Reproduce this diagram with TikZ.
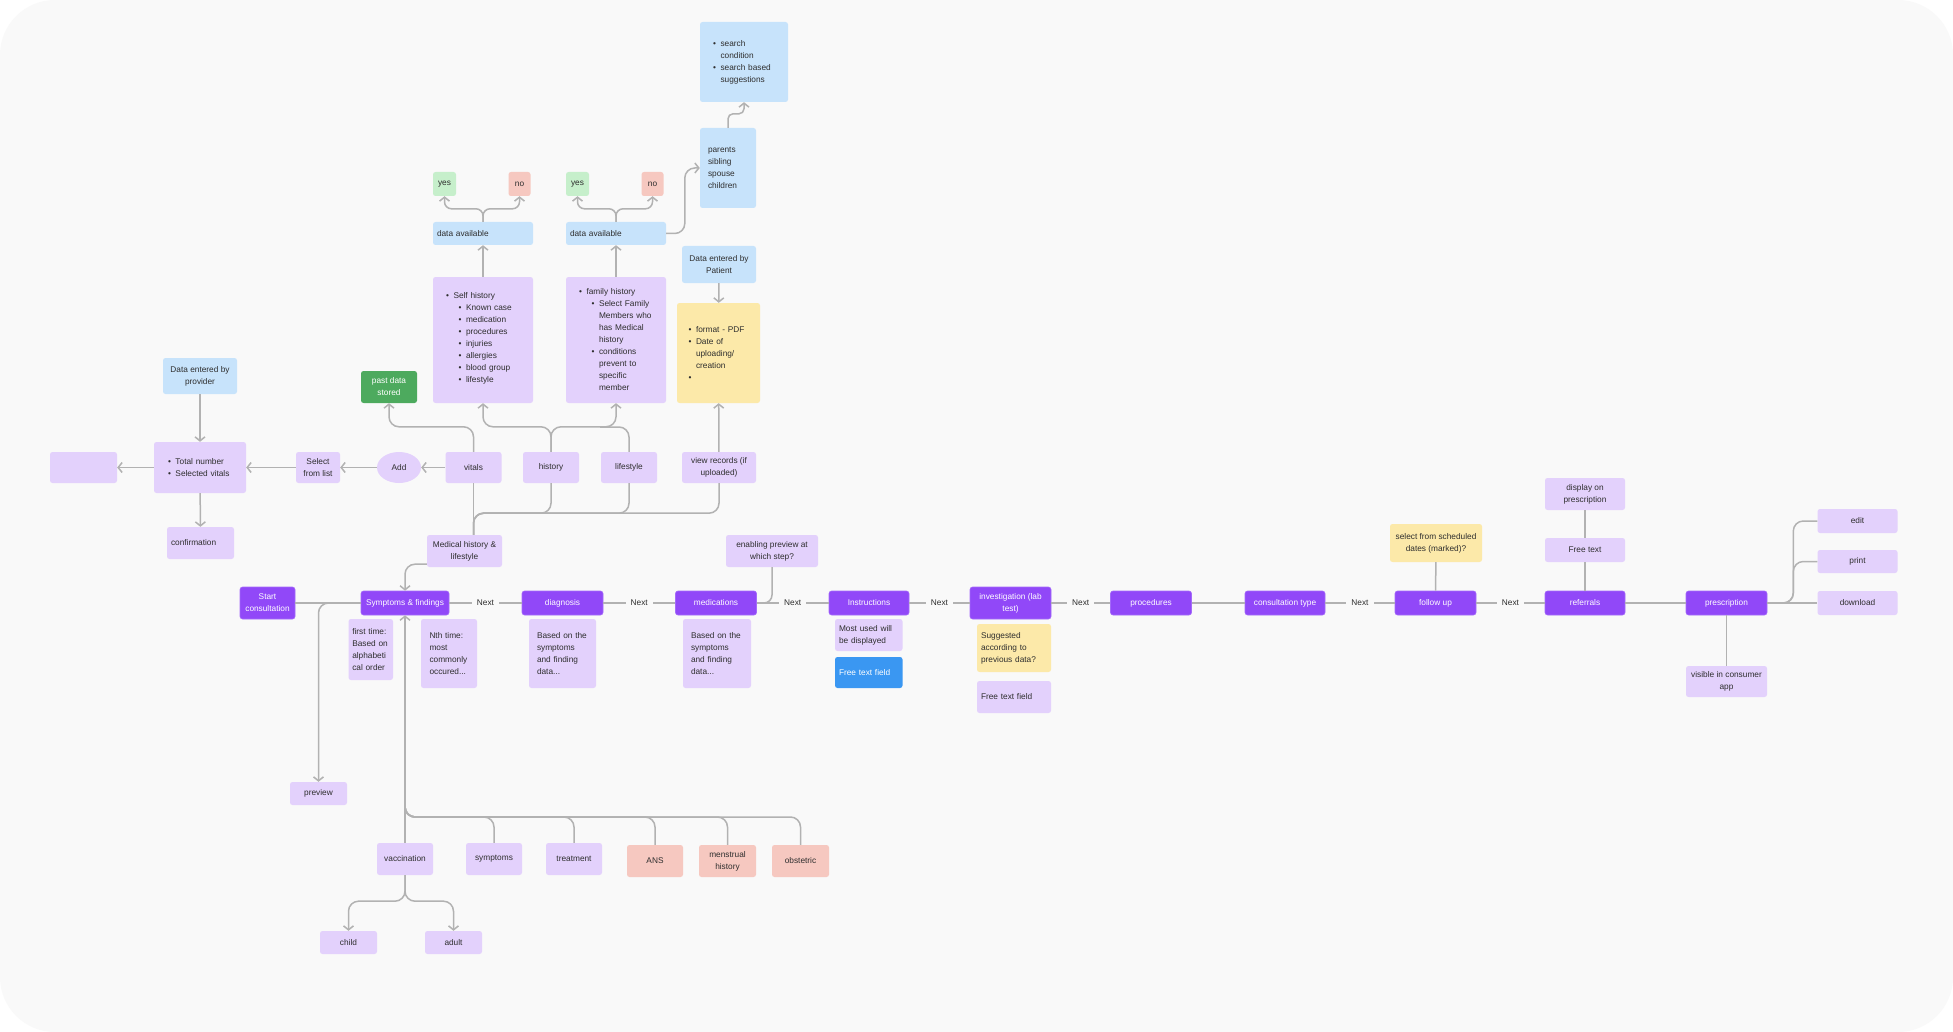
\documentclass[tikz,border=0pt]{standalone}
\usepackage{fontspec}
\setmainfont{Liberation Sans}
\usetikzlibrary{arrows.meta,shapes.geometric,calc}
\definecolor{bgc}{HTML}{F9F9F9}
\definecolor{lav}{HTML}{E3D1FC}
\definecolor{pur}{HTML}{9148F8}
\definecolor{purb}{HTML}{A46BF9}
\definecolor{lblu}{HTML}{C7E3FB}
\definecolor{lgrn}{HTML}{C6EFCB}
\definecolor{lred}{HTML}{F6C8C0}
\definecolor{lyel}{HTML}{FCE9A9}
\definecolor{dgrn}{HTML}{4DAA5E}
\definecolor{bblu}{HTML}{3A97F2}
\definecolor{txt}{HTML}{2E2E2E}
\definecolor{cgray}{HTML}{B2B2B2}
\newcommand{\myfs}{\fontsize{8.3}{12}\selectfont}
\newcommand{\mybl}{\makebox[7.5pt][l]{\textbullet}}
\newcommand{\myia}{\hspace*{12.5pt}}
\newcommand{\myib}{\hspace*{7.5pt}}
\newcommand{\myic}{\hspace*{20pt}}
\begin{document}
\begin{tikzpicture}[x=1pt,y=-1pt,
  wh/.style 2 args={minimum width=#1pt, minimum height=#2pt},
  bx/.style={rounded corners=2.5pt, inner sep=0pt, font=\myfs, align=center, text=txt},
  lavb/.style={bx, fill=lav},
  purb/.style={bx, fill=pur, draw=purb, line width=0.6pt, text=white},
  blub/.style={bx, fill=lblu},
  yelb/.style={bx, fill=lyel},
  grnb/.style={bx, fill=lgrn},
  redb/.style={bx, fill=lred},
  dgrnb/.style={bx, fill=dgrn, text=white},
  bblub/.style={bx, fill=bblu, text=white},
  lt/.style={align=left, text width=#1pt},
  cn/.style={draw=cgray, line width=1.5pt},
  arr/.style={cn, -{Straight Barb[length=4pt,width=10pt]}},
  rc/.style={rounded corners=#1pt},
  nx/.style={fill=bgc, font=\myfs, text=txt, inner xsep=5pt, inner ysep=1pt}
]
\useasboundingbox (0,0) rectangle (1953,1032);
\fill[white] (0,0) rectangle (1953,1032);
\fill[bgc, rounded corners=55pt] (0,0) rectangle (1953,1032);

% ---- left cluster
\node[blub, wh={74}{36}] (prov) at (200,376) {Data entered by\\provider};
\node[lavb, wh={92}{51}, lt=64] (tot) at (200,467.5) {\mybl Total number\\\mybl Selected vitals};
\node[lavb, wh={67}{31}] (empty) at (83.5,467.5) {};
\node[lavb, wh={67}{32}, lt=59] (conf) at (200.5,543) {confirmation};
\node[lavb, wh={44}{31}] (sel) at (318,467.5) {Select\\from list};
\node[lavb, ellipse, wh={44}{31}] (add) at (399,467.5) {Add};
\node[lavb, wh={56}{31}] (vitals) at (473.5,467.5) {vitals};
\node[lavb, wh={56}{31}] (history) at (551,467.5) {history};
\node[lavb, wh={56}{31}] (life) at (629,467.5) {lifestyle};
\node[lavb, wh={74}{31}] (view) at (719,467.5) {view records (if\\uploaded)};
\node[dgrnb, wh={56}{32}] (past) at (389,387) {past data\\stored};

% ---- history boxes
\node[lavb, wh={100}{126}, lt=74] (self) at (483,340) {\mybl Self history\\
\myia\mybl Known case\\ \myia\mybl medication\\ \myia\mybl procedures\\ \myia\mybl injuries\\
\myia\mybl allergies\\ \myia\mybl blood group\\ \myia\mybl lifestyle\\[-7pt]\mbox{}};
\node[lavb, wh={100}{126}, lt=74] (fam) at (616,340) {\mybl family history\\
\myia\mybl Select Family\\ \myic Members who\\ \myic has Medical\\ \myic history\\
\myia\mybl conditions\\ \myic prevent to\\ \myic specific\\ \myic member};
\node[blub, wh={100}{23}, lt=92] (da1) at (483,233.5) {data available};
\node[blub, wh={100}{23}, lt=92] (da2) at (616,233.5) {data available};
\node[grnb, wh={23}{24}] (yes1) at (444.5,184) {yes};
\node[redb, wh={22}{24}] (no1) at (519.5,184) {no};
\node[grnb, wh={23}{24}] (yes2) at (577.5,184) {yes};
\node[redb, wh={22}{24}] (no2) at (652.5,184) {no};
\node[blub, wh={74}{37}] (patient) at (719,264.5) {Data entered by\\Patient};
\node[yelb, wh={83}{100}, lt=60] (upl) at (718.5,353) {\mybl format - PDF\\ \mybl Date of\\ \myib uploading/\\ \myib creation\\ \mybl};
\node[blub, wh={56}{80}, lt=40] (parents) at (728,168) {parents\\sibling\\spouse\\children};
\node[blub, wh={88}{80}, lt=62] (search) at (744,62) {\mybl search\\ \myib condition\\ \mybl search based\\ \myib suggestions};

% ---- main row
\node[purb, wh={55}{32}] (start) at (267.5,603) {Start\\consultation};
\node[purb, wh={88}{24}] (sym) at (405,603) {Symptoms \& findings};
\node[purb, wh={81}{24}] (diag) at (562.5,603) {diagnosis};
\node[purb, wh={81}{24}] (med) at (716,603) {medications};
\node[purb, wh={80}{24}] (instr) at (869,603) {Instructions};
\node[purb, wh={81}{32}] (inv) at (1010.5,603) {investigation (lab\\test)};
\node[purb, wh={81}{24}] (proc) at (1151,603) {procedures};
\node[purb, wh={80}{24}] (cons) at (1285,603) {consultation type};
\node[purb, wh={81}{24}] (fol) at (1435.5,603) {follow up};
\node[purb, wh={80}{24}] (ref) at (1585,603) {referrals};
\node[purb, wh={81}{24}] (pres) at (1726.5,603) {prescription};

% ---- notes around main row
\node[lavb, wh={75}{32}] (mh) at (464.5,551) {Medical history \&\\lifestyle};
\node[lavb, wh={92}{32}] (ep) at (772,551) {enabling preview at\\which step?};
\node[lavb, wh={44.5}{61}, lt=37] (first) at (370.75,649.5) {first time:\\Based on\\alphabeti\\cal order};
\node[lavb, wh={56}{69}, lt=39] (nth) at (449,653.5) {Nth time:\\most\\commonly\\occured...};
\node[lavb, wh={67}{69}, lt=51] (bd) at (562.5,653.5) {Based on the\\symptoms\\and finding\\data...};
\node[lavb, wh={68}{69}, lt=52] (bm) at (717,653.5) {Based on the\\symptoms\\and finding\\data...};
\node[lavb, wh={67.5}{32}, lt=59.5] (mu) at (868.75,635) {Most used will\\be displayed};
\node[bblub, wh={67.5}{31}, lt=59.5] (ftb) at (868.75,672.5) {Free text field};
\node[yelb, wh={74}{48}, lt=66] (sug) at (1014,648) {Suggested\\according to\\previous data?};
\node[lavb, wh={74}{32}, lt=66] (ftl) at (1014,697) {Free text field};
\node[yelb, wh={92}{38}] (sched) at (1436,543) {select from scheduled\\dates (marked)?};
\node[lavb, wh={80}{32}] (disp) at (1585,494) {display on\\prescription};
\node[lavb, wh={80}{24}] (ft) at (1585,550) {Free text};
\node[lavb, wh={80}{24}] (edit) at (1857.5,521) {edit};
\node[lavb, wh={80}{23}] (print) at (1857.5,561.5) {print};
\node[lavb, wh={80}{24}] (down) at (1857.5,603) {download};
\node[lavb, wh={81}{31}] (vis) at (1726.5,681.5) {visible in consumer\\app};

% ---- bottom tree
\node[lavb, wh={57}{23}] (preview) at (318.5,793.5) {preview};
\node[lavb, wh={56}{32}] (vac) at (405,859) {vaccination};
\node[lavb, wh={56}{32}] (sy) at (494,859) {symptoms};
\node[lavb, wh={56}{32}] (tr) at (574,859) {treatment};
\node[redb, wh={56}{32}] (ans) at (655,861) {ANS};
\node[redb, wh={57}{32}] (mens) at (727.5,861) {menstrual\\history};
\node[redb, wh={57}{32}] (obs) at (800.5,861) {obstetric};
\node[lavb, wh={57}{23}] (child) at (348.5,942.5) {child};
\node[lavb, wh={57}{23}] (adult) at (453.5,942.5) {adult};

\coordinate (pv) at (338,603);
\coordinate (tj) at (405,817);
\coordinate (lj) at (600,427);

% ---- connectors, left cluster
\draw[arr] (prov) -- (tot);
\draw[arr] (tot) -- (empty);
\draw[arr] (tot) -- (conf);
\draw[arr] (sel) -- (tot);
\draw[arr] (add) -- (sel);
\draw[arr] (vitals) -- (add);
\draw[arr, rc=10] (vitals.north) -- ++(0,-25) -| (past.south);
\draw[arr, rc=10] (history.north) -- ++(0,-25) -| (self.south);
\draw[arr, rc=10] (history.north) -- ++(0,-25) -| (fam.south);
\draw[cn, rc=10] (life.north) |- (lj);
\draw[arr] (self) -- (da1);
\draw[arr] (fam) -- (da2);
\draw[arr, rc=7] (da1.north) -- ++(0,-13) -| (yes1.south);
\draw[arr, rc=7] (da1.north) -- ++(0,-13) -| (no1.south);
\draw[arr, rc=7] (da2.north) -- ++(0,-13) -| (yes2.south);
\draw[arr, rc=7] (da2.north) -- ++(0,-13) -| (no2.south);
\draw[arr, rc=10] (da2.east) -| ($(parents.west)+(-15,0)$) -- (parents.west);
\draw[arr, rc=5] (parents.north) -- ++(0,-14) -| (search.south);
\draw[arr] (patient) -- (upl);
\draw[arr] (view) -- (upl);

% ---- medical history connectors
\draw[cn] (vitals.south) -- (vitals.south |- mh.north);
\draw[cn, rc=10] (vitals.south |- mh.north) |- ($(history.south)+(0,30)$) -- (history.south);
\draw[cn, rc=10] (vitals.south |- mh.north) |- ($(life.south)+(0,30)$) -- (life.south);
\draw[cn, rc=10] (vitals.south |- mh.north) |- ($(view.south)+(0,30)$) -- (view.south);
\draw[arr, rc=10] ($(mh.south west)+(0,-3)$) -| (sym.north);
\draw[cn, rc=8] (ep.south) |- ($(med.east)+(6,0)$);

% ---- main row
\draw[cn] (start) -- (sym);
\draw[cn] (sym) -- node[nx]{Next} (diag);
\draw[cn] (diag) -- node[nx]{Next} (med);
\draw[cn] (med) -- node[nx]{Next} (instr);
\draw[cn] (instr) -- node[nx]{Next} (inv);
\draw[cn] (inv) -- node[nx]{Next} (proc);
\draw[cn] (proc) -- (cons);
\draw[cn] (cons) -- node[nx]{Next} (fol);
\draw[cn] (fol) -- node[nx]{Next} (ref);
\draw[cn] (ref) -- (pres);
\draw[cn] (sched) -- (fol);
\draw[cn] (disp) -- (ft);
\draw[cn] (ft) -- (ref);
\draw[cn] (pres) -- (vis);
\draw[cn] (pres) -- (down);
\draw[cn, rc=10] (pres.east) -- ++(26,0) |- (edit.west);
\draw[cn, rc=10] (pres.east) -- ++(26,0) |- (print.west);
\draw[arr, rc=10] (pv) -| (preview.north);

% ---- bottom tree connectors
\draw[arr] (vac) -- (sym);
\draw[cn, rc=10] (sy.north) |- (tj) -- ++(0,-20);
\draw[cn, rc=10] (tr.north) |- (tj) -- ++(0,-20);
\draw[cn, rc=10] (ans.north) |- (tj) -- ++(0,-20);
\draw[cn, rc=10] (mens.north) |- (tj) -- ++(0,-20);
\draw[cn, rc=10] (obs.north) |- (tj) -- ++(0,-20);
\draw[arr, rc=10] (vac.south) -- ++(0,26) -| (child.north);
\draw[arr, rc=10] (vac.south) -- ++(0,26) -| (adult.north);
\end{tikzpicture}
\end{document}
